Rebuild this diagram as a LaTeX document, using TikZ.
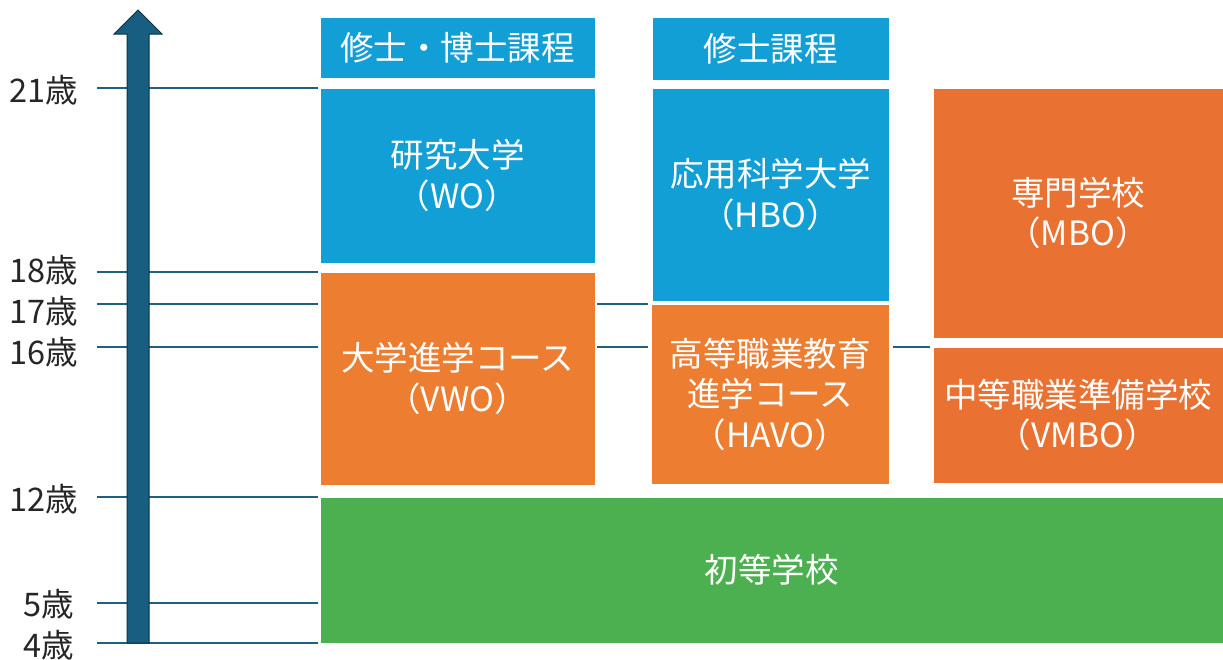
\documentclass[tikz,border=0pt]{standalone}
\usepackage{fontspec}
\setmainfont{Noto Sans CJK JP}
\definecolor{boxblue}{HTML}{129FD6}
\definecolor{boxorange}{HTML}{ED7D31}
\definecolor{boxorange2}{HTML}{E97132}
\definecolor{boxgreen}{HTML}{4CB050}
\definecolor{tickline}{HTML}{1F5F80}
\definecolor{arrowfill}{HTML}{175E80}
\definecolor{arrowedge}{HTML}{0B3347}
\definecolor{labeltext}{HTML}{262626}
\tikzset{
  stagebox/.style={rectangle, inner sep=0pt, outer sep=0pt, draw=white, line width=1pt,
    text=white, align=center, font=\fontsize{33.5}{40.5}\selectfont},
  agelabel/.style={anchor=east, inner sep=0pt, text=labeltext, font=\fontsize{32.5}{36}\selectfont},
  tick/.style={draw=tickline, line width=2.5pt},
}
\begin{document}
\begin{tikzpicture}[x=1pt,y=-1pt]
\useasboundingbox (0,0) rectangle (1223,659);
% age labels
\node[agelabel] (a21) at (78,90) {21歳};
\node[agelabel] (a18) at (78,270) {18歳};
\node[agelabel] (a17) at (78,311) {17歳};
\node[agelabel] (a16) at (78,352) {16歳};
\node[agelabel] (a12) at (78,499) {12歳};
\node[agelabel] (a5) at (74,604) {5歳};
\node[agelabel] (a4) at (74,645) {4歳};
% tick lines
\foreach \n/\y in {21/88,18/272,17/304,16/347,12/497,5/603,4/643}{
  \coordinate (ls\n) at (97,\y);
  \coordinate (le\n) at (318,\y);
  \draw[tick] (ls\n) -- (le\n);
}
% arrow
\draw[fill=arrowfill, draw=arrowedge, line width=1pt]
  (127,643) -- (127,34) -- (114,34) -- (138,10) -- (162,34) -- (149,34) -- (149,643) -- cycle;
% boxes
\node[stagebox, fill=boxblue, minimum width=275pt, minimum height=61pt] (phd) at (457.5,47.5) {修士・博士課程};
\node[stagebox, fill=boxblue, minimum width=275pt, minimum height=175pt] (wo) at (457.5,175.5) {研究大学\\（WO）};
\node[stagebox, fill=boxorange, minimum width=275pt, minimum height=213pt] (vwo) at (457.5,378.5) {大学進学コース\\（VWO）};
\node[stagebox, fill=boxblue, minimum width=237pt, minimum height=63pt] (master) at (770.5,48.5) {修士課程};
\node[stagebox, fill=boxblue, minimum width=237pt, minimum height=213pt] (hbo) at (770.5,194.5) {応用科学大学\\（HBO）};
\node[stagebox, fill=boxorange, minimum width=238pt, minimum height=180pt] (havo) at (770,394) {高等職業教育\\進学コース\\（HAVO）};
\node[stagebox, fill=boxorange2, minimum width=290pt, minimum height=250pt] (mbo) at (1078,213) {専門学校\\（MBO）};
\node[stagebox, fill=boxorange2, minimum width=290pt, minimum height=136pt] (vmbo) at (1078,415) {中等職業準備学校\\（VMBO）};
\node[stagebox, fill=boxgreen, minimum width=903pt, minimum height=146pt] (prim) at (771.5,570) {初等学校};
% connectors between columns
\coordinate (c1a) at (597,304); \coordinate (c1b) at (648,304);
\coordinate (c2a) at (597,347); \coordinate (c2b) at (648,347);
\coordinate (c3a) at (893,347); \coordinate (c3b) at (930,347);
\draw[tick] (c1a) -- (c1b);
\draw[tick] (c2a) -- (c2b);
\draw[tick] (c3a) -- (c3b);
\end{tikzpicture}
\end{document}
